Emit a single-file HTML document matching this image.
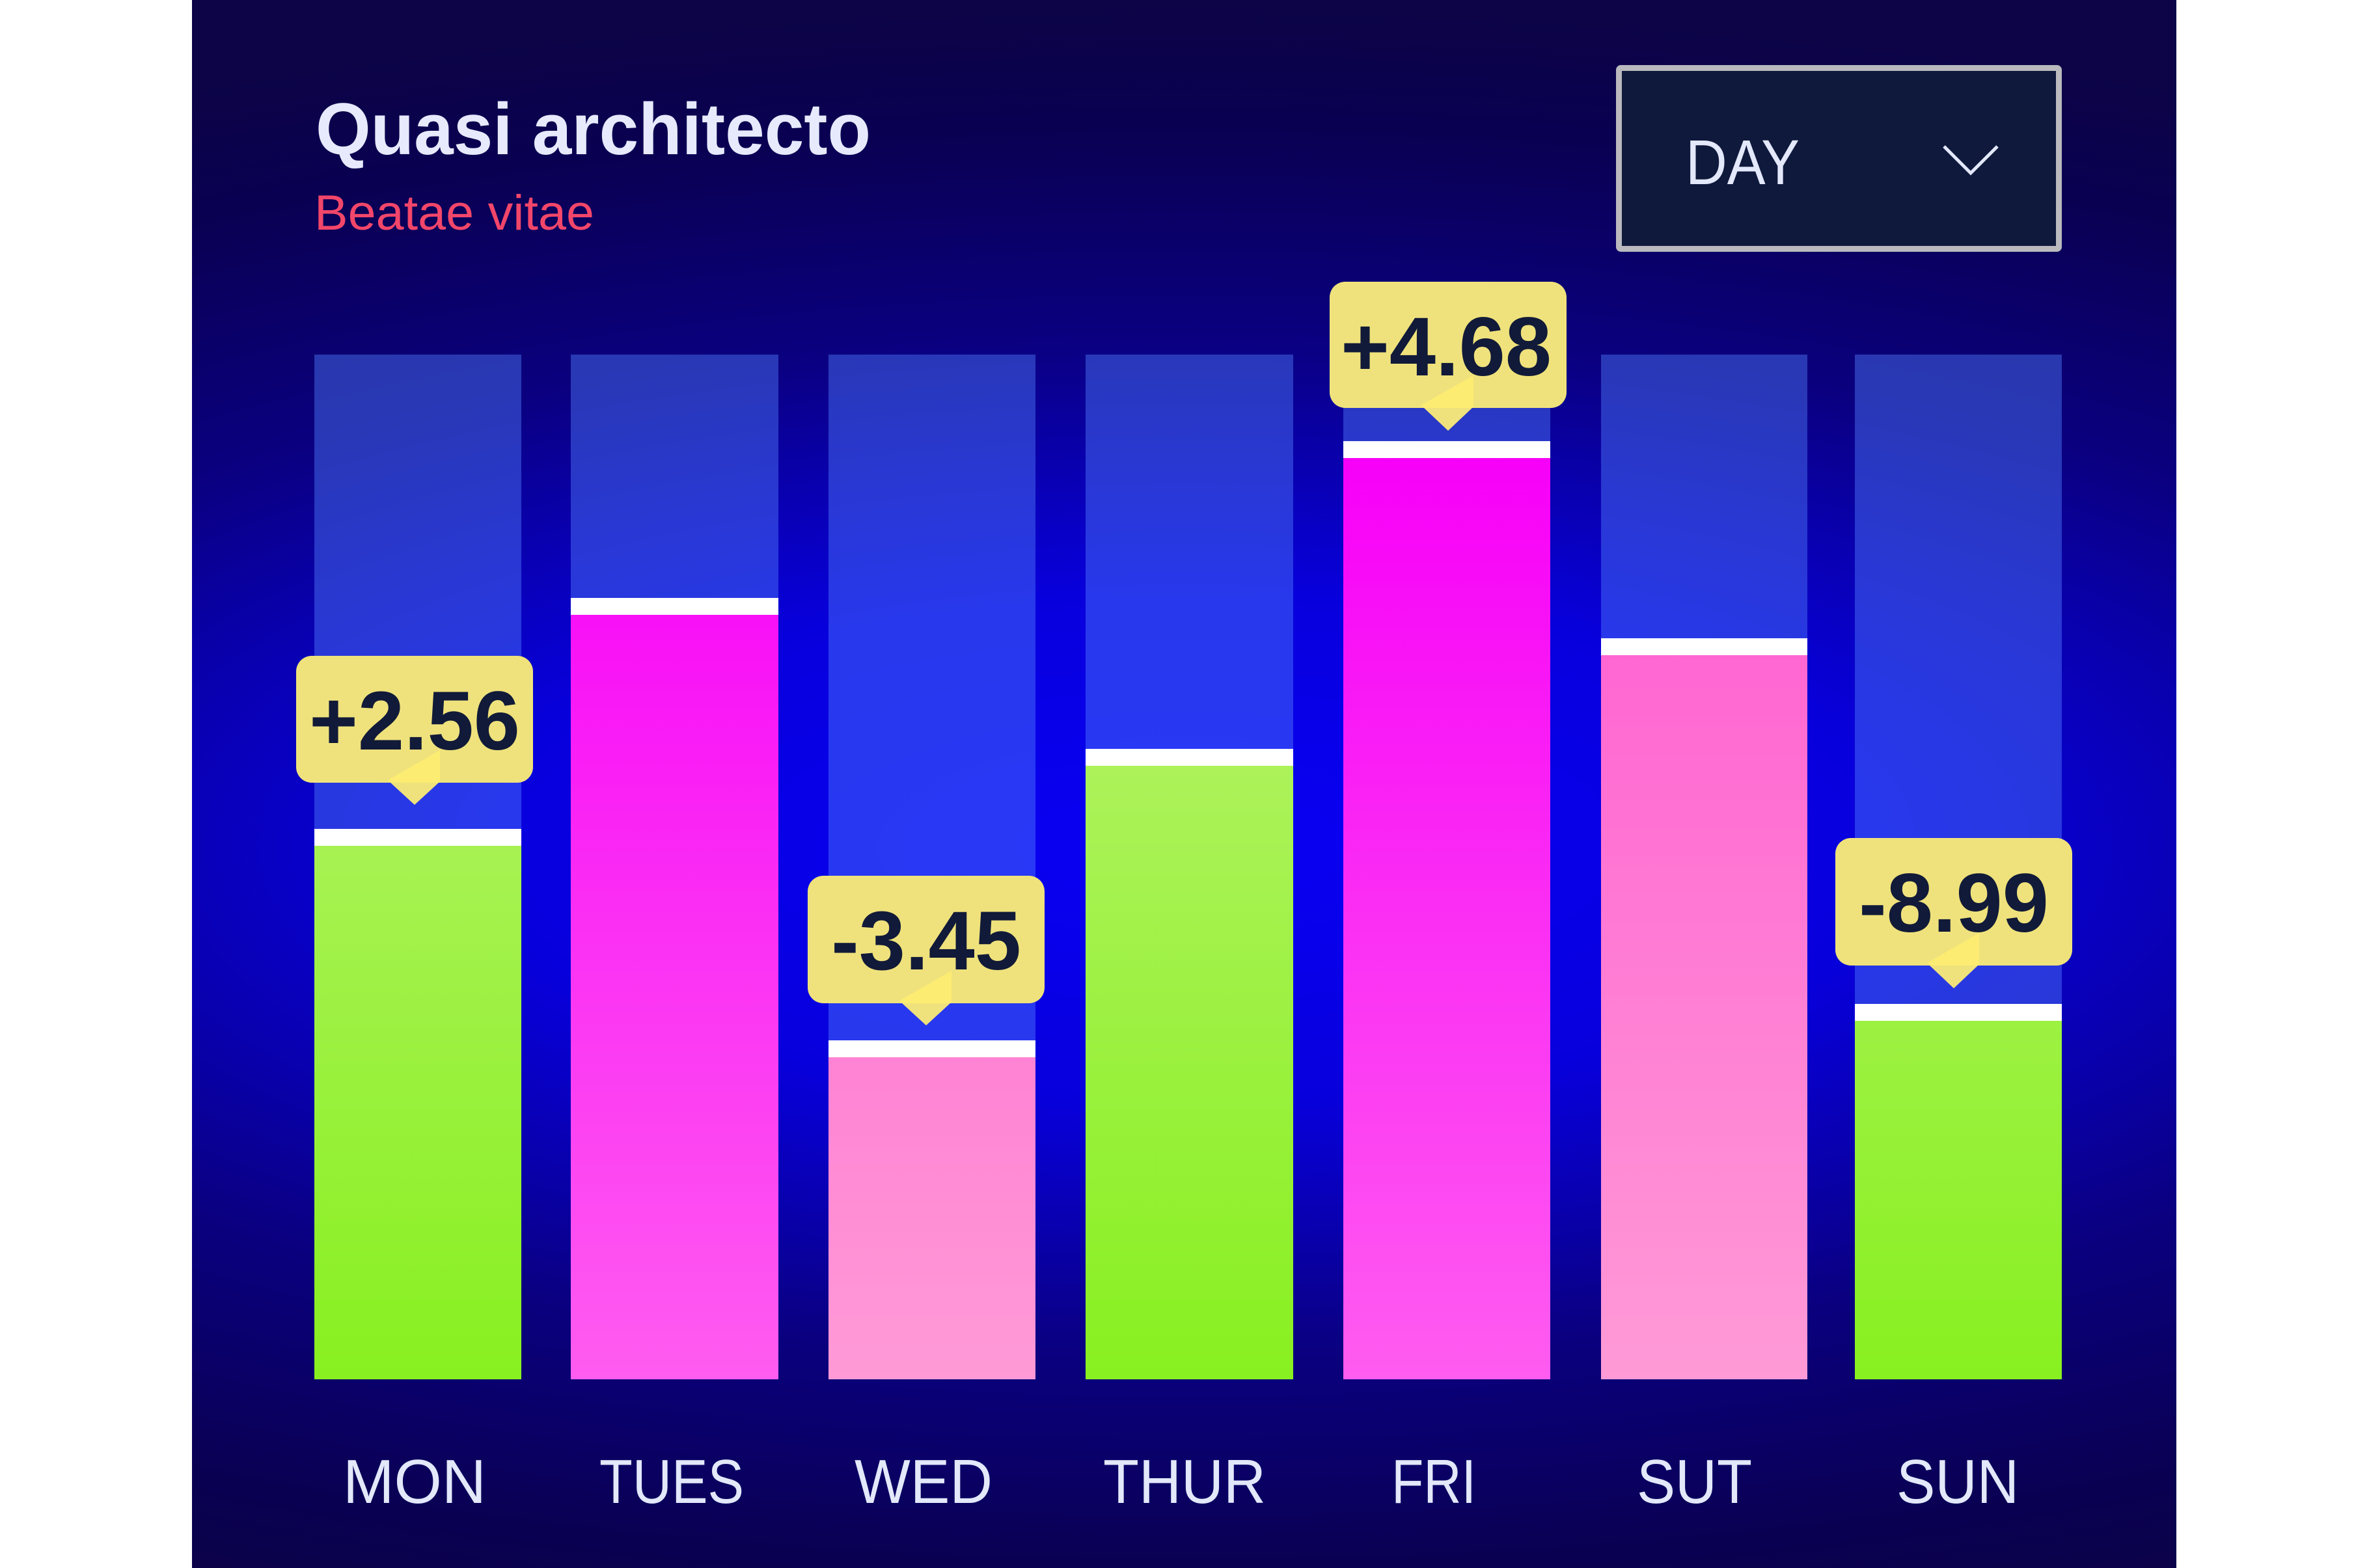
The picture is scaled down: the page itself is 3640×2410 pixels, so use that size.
<!DOCTYPE html>
<html>
<head>
<meta charset="utf-8">
<style>
  html, body { margin:0; padding:0; background:#ffffff; }
  body { width:3640px; height:2410px; overflow:hidden; }
  svg { display:block; }
  text { font-family: "Liberation Sans", "DejaVu Sans", sans-serif; }
</style>
</head>
<body>
<svg width="3640" height="2410" viewBox="0 0 3640 2410" xmlns="http://www.w3.org/2000/svg">
  <defs>
    <radialGradient id="bg" gradientUnits="userSpaceOnUse" cx="1820" cy="1300" r="1300"
      gradientTransform="translate(1820 1300) scale(2.8 1) translate(-1820 -1300)">
      <stop offset="0" stop-color="#0900f4"/>
      <stop offset="0.3" stop-color="#0800dc"/>
      <stop offset="0.45" stop-color="#0900b0"/>
      <stop offset="0.6" stop-color="#0a0080"/>
      <stop offset="0.85" stop-color="#0a0052"/>
      <stop offset="1" stop-color="#0c0446"/>
    </radialGradient>
    <linearGradient id="gGreen" gradientUnits="userSpaceOnUse" x1="0" y1="1150" x2="0" y2="2120">
      <stop offset="0" stop-color="#adf25b"/>
      <stop offset="1" stop-color="#88f020"/>
    </linearGradient>
    <linearGradient id="gMag" gradientUnits="userSpaceOnUse" x1="0" y1="700" x2="0" y2="2120">
      <stop offset="0" stop-color="#f700f8"/>
      <stop offset="1" stop-color="#ff5cf0"/>
    </linearGradient>
    <linearGradient id="gPink" gradientUnits="userSpaceOnUse" x1="0" y1="1000" x2="0" y2="2120">
      <stop offset="0" stop-color="#ff66d2"/>
      <stop offset="1" stop-color="#ff9ad6"/>
    </linearGradient>
  </defs>

  <!-- panel -->
  <rect x="295" y="0" width="3049" height="2410" fill="url(#bg)"/>

  <!-- title -->
  <text x="485" y="237" font-size="112" font-weight="bold" fill="#e6eafc" textLength="853" lengthAdjust="spacingAndGlyphs">Quasi architecto</text>
  <text x="483" y="353" font-size="76" fill="#f2466a" textLength="430" lengthAdjust="spacingAndGlyphs">Beatae vitae</text>

  <!-- DAY dropdown -->
  <rect x="2487.5" y="104.5" width="676" height="278" rx="3" fill="#0f193c" stroke="#b9b9be" stroke-width="9"/>
  <text x="2590" y="283" font-size="97" fill="#e3e8fa" textLength="175" lengthAdjust="spacingAndGlyphs">DAY</text>
  <polyline points="2987,225 3028,266 3069,225" fill="none" stroke="#e3e8fa" stroke-width="5"/>

  <!-- column backgrounds -->
  <g fill="rgb(84,130,255)" fill-opacity="0.43">
    <rect x="483" y="545" width="318" height="1575"/>
    <rect x="877" y="545" width="319" height="1575"/>
    <rect x="1273" y="545" width="318" height="1575"/>
    <rect x="1668" y="545" width="319" height="1575"/>
    <rect x="2064" y="545" width="318" height="1575"/>
    <rect x="2460" y="545" width="317" height="1575"/>
    <rect x="2850" y="545" width="318" height="1575"/>
  </g>

  <!-- fills -->
  <rect x="483" y="1300" width="318" height="820" fill="url(#gGreen)"/>
  <rect x="877" y="945" width="319" height="1175" fill="url(#gMag)"/>
  <rect x="1273" y="1625" width="318" height="495" fill="url(#gPink)"/>
  <rect x="1668" y="1177" width="319" height="943" fill="url(#gGreen)"/>
  <rect x="2064" y="704" width="318" height="1416" fill="url(#gMag)"/>
  <rect x="2460" y="1007" width="317" height="1113" fill="url(#gPink)"/>
  <rect x="2850" y="1569" width="318" height="551" fill="url(#gGreen)"/>

  <!-- white caps -->
  <g fill="#ffffff">
    <rect x="483" y="1274" width="318" height="26"/>
    <rect x="877" y="919" width="319" height="26"/>
    <rect x="1273" y="1599" width="318" height="26"/>
    <rect x="1668" y="1151" width="319" height="26"/>
    <rect x="2064" y="678" width="318" height="26"/>
    <rect x="2460" y="981" width="317" height="26"/>
    <rect x="2850" y="1543" width="318" height="26"/>
  </g>

  <!-- tooltips -->
  <!-- MON: box 455,1008 ; cx 637 ; b 1203 -->
  <g>
    <polygon points="600,1203 674,1203 637,1237" fill="#efe27c"/>
    <rect x="455" y="1008" width="364" height="195" rx="24" fill="#efe27c"/>
    <polygon points="596,1199 676,1153 676,1203 600,1203" fill="#fcec72"/>
    <text x="637" y="1152" font-size="128" font-weight="bold" fill="#111a38" text-anchor="middle">+2.56</text>
  </g>
  <!-- WED: box 1241,1346 ; cx 1423 ; b 1542 -->
  <g>
    <polygon points="1386,1542 1460,1542 1423,1576" fill="#efe27c"/>
    <rect x="1241" y="1346" width="364" height="196" rx="24" fill="#efe27c"/>
    <polygon points="1382,1538 1462,1492 1462,1542 1386,1542" fill="#fcec72"/>
    <text x="1423" y="1490" font-size="128" font-weight="bold" fill="#111a38" text-anchor="middle">-3.45</text>
  </g>
  <!-- FRI: box 2043,433 ; cx 2225 ; b 627 -->
  <g>
    <polygon points="2188,627 2262,627 2225,662" fill="#efe27c"/>
    <rect x="2043" y="433" width="364" height="194" rx="24" fill="#efe27c"/>
    <polygon points="2183,623 2264,577 2264,627 2188,627" fill="#fcec72"/>
    <text x="2222" y="577" font-size="128" font-weight="bold" fill="#111a38" text-anchor="middle">+4.68</text>
  </g>
  <!-- SUN: box 2820,1288 ; cx 3002 ; b 1484 -->
  <g>
    <polygon points="2965,1484 3039,1484 3002,1519" fill="#efe27c"/>
    <rect x="2820" y="1288" width="364" height="196" rx="24" fill="#efe27c"/>
    <polygon points="2961,1480 3041,1434 3041,1484 2965,1484" fill="#fcec72"/>
    <text x="3002" y="1432" font-size="128" font-weight="bold" fill="#111a38" text-anchor="middle">-8.99</text>
  </g>

  <!-- day labels -->
  <g font-size="96" fill="#e3e8fa">
    <text x="527" y="2310" textLength="220" lengthAdjust="spacingAndGlyphs">MON</text>
    <text x="921" y="2310" textLength="222" lengthAdjust="spacingAndGlyphs">TUES</text>
    <text x="1313" y="2310" textLength="212" lengthAdjust="spacingAndGlyphs">WED</text>
    <text x="1695" y="2310" textLength="250" lengthAdjust="spacingAndGlyphs">THUR</text>
    <text x="2138" y="2310" textLength="130" lengthAdjust="spacingAndGlyphs">FRI</text>
    <text x="2515" y="2310" textLength="177" lengthAdjust="spacingAndGlyphs">SUT</text>
    <text x="2914" y="2310" textLength="188" lengthAdjust="spacingAndGlyphs">SUN</text>
  </g>
</svg>
</body>
</html>
